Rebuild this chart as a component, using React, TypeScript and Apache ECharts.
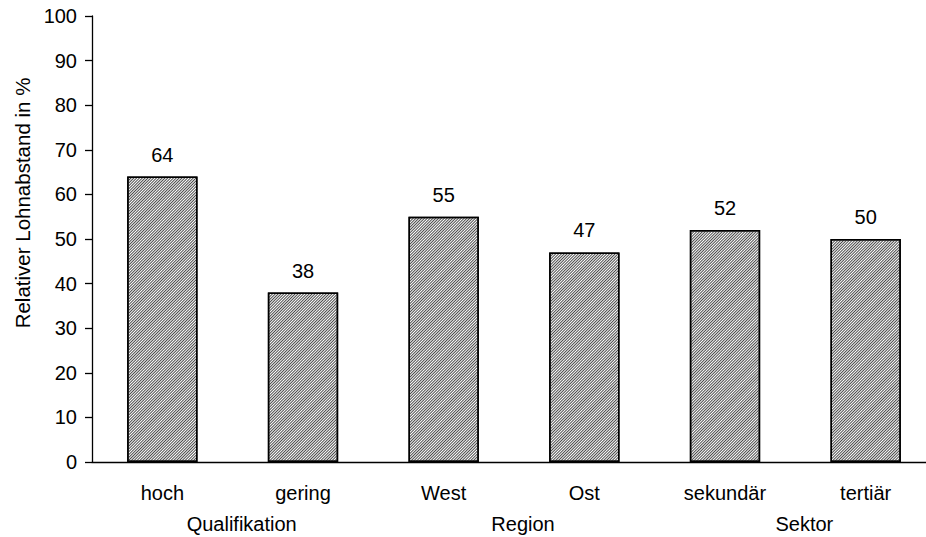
import React, { useEffect, useRef } from "react";
import * as echarts from "echarts";

const categories = ["hoch", "gering", "West", "Ost", "sekundär", "tertiär"];
const values = [64, 38, 55, 47, 52, 50];
const groups = ["Qualifikation", "Region", "Sektor"];
const yTitle = "Relativer Lohnabstand in %";

const FONT = "'Liberation Sans', Arial, sans-serif";

export default function App() {
  const ref = useRef<HTMLDivElement>(null);
  useEffect(() => {
    if (!ref.current) return;
    const chart = echarts.init(ref.current, null, { renderer: "svg" });
    chart.setOption({
      animation: false,
      backgroundColor: "#fff",
      textStyle: { fontFamily: FONT, color: "#000" },
      grid: { left: 92, top: 16, width: 844, height: 446, outerBoundsMode: "none", containLabel: false },
      xAxis: [
        {
          type: "category",
          data: categories,
          axisLine: { lineStyle: { color: "#000", width: 1.3 } },
          axisTick: { show: false },
          axisLabel: { color: "#000", fontSize: 20, fontFamily: FONT, margin: 21 },
        },
        {
          type: "category",
          data: groups,
          position: "bottom",
          axisLine: { show: false },
          axisTick: { show: false },
          axisLabel: {
            color: "#000",
            fontSize: 20,
            fontFamily: FONT,
            margin: 52,
            padding: [0, 0, 0, 18],
          },
        },
      ],
      yAxis: {
        type: "value",
        min: 0,
        max: 100,
        interval: 10,
        splitLine: { show: false },
        axisLine: { show: true, lineStyle: { color: "#000", width: 1.3 } },
        axisTick: { show: true, length: 7, lineStyle: { color: "#000", width: 1.3 } },
        axisLabel: { color: "#000", fontSize: 20, fontFamily: FONT, margin: 15 },
      },
      series: [
        {
          type: "bar",
          data: values,
          xAxisIndex: 0,
          barWidth: "50%",
          itemStyle: {
            color: "#fff",
            borderColor: "#000",
            borderWidth: 1.5,
            decal: {
              symbol: "rect",
              symbolSize: 1,
              color: "#4a4a4a",
              backgroundColor: "#fff",
              dashArrayX: [1, 0],
              dashArrayY: [1, 1],
              rotation: -Math.PI / 4,
            },
          },
          label: {
            show: true,
            position: "top",
            distance: 12,
            color: "#000",
            fontSize: 20,
            fontFamily: FONT,
          },
        },
      ],
      graphic: [
        {
          type: "text",
          x: 22,
          y: 203,
          rotation: Math.PI / 2,
          style: {
            text: yTitle,
            fill: "#000",
            font: `20.5px ${FONT}`,
            textAlign: "center",
            textVerticalAlign: "middle",
          },
        },
      ],
    });
    return () => chart.dispose();
  }, []);
  return (
    <div
      ref={ref}
      style={{ position: "fixed", left: 0, top: 0, width: 926, height: 537, background: "#fff" }}
    />
  );
}
